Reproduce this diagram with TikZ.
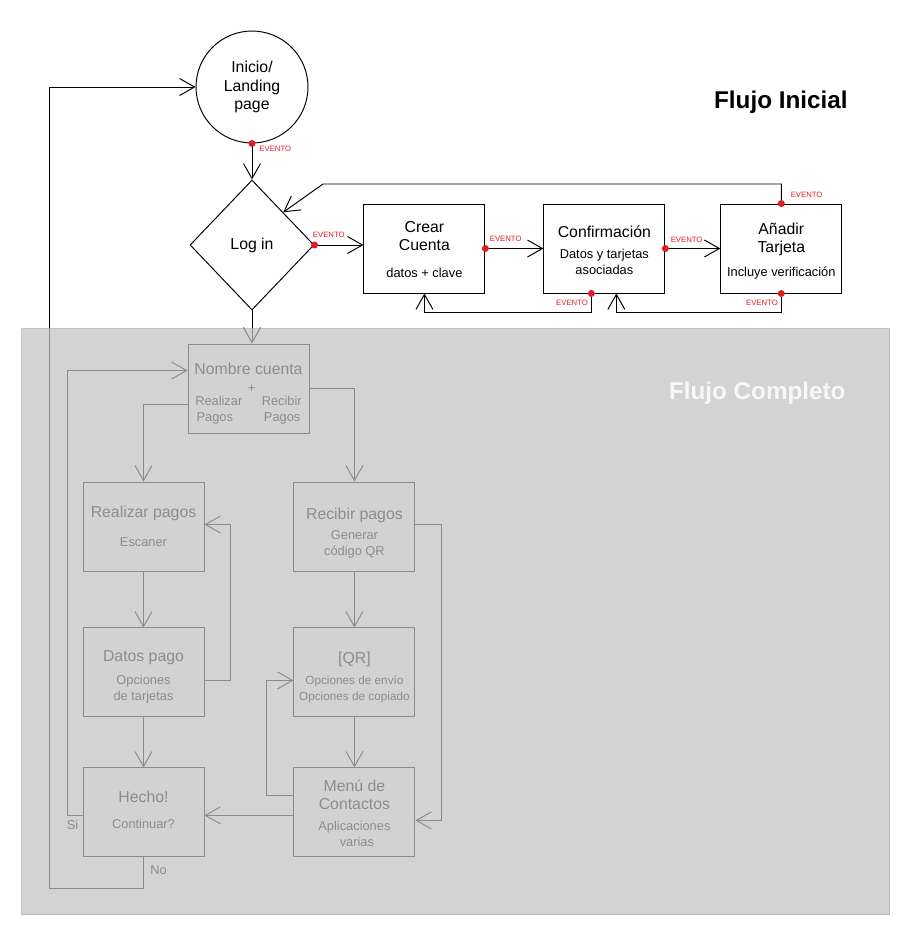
\documentclass[tikz,border=0pt]{standalone}
\usepackage{fontspec}
\setmainfont{Liberation Sans}
\usepackage{tikz}
\usetikzlibrary{shapes.geometric, arrows.meta, positioning, calc}
\usepackage{xcolor}
\definecolor{eventred}{HTML}{E31B23}
\definecolor{panelgray}{HTML}{C2C2C2}
\definecolor{panelline}{HTML}{AFAFAF}
\newcommand{\titlefont}{\fontsize{9}{10.3}\selectfont}
\newcommand{\boxsub}{\fontsize{7.3}{9.1}\selectfont}
\newcommand{\evfont}{\fontsize{4.4}{5}\selectfont}
\newcommand{\headfont}{\fontsize{13.8}{16}\selectfont\bfseries}
\newcommand{\boxlines}[1]{{\boxsub\begin{tabular}[t]{@{}c@{}}#1\end{tabular}}}
\newcommand{\topgap}[1]{\rule{0pt}{#1}}

\begin{document}
\begin{tikzpicture}[
    x=0.02cm, y=-0.02cm, line width=0.55pt,
    landing/.style={circle, draw, fill=white, minimum size=2.24cm, inner sep=0pt, align=center, font=\titlefont},
    decision/.style={diamond, draw, fill=white, minimum width=2.48cm, minimum height=2.6cm, inner sep=0pt, font=\titlefont},
    screen/.style={draw, fill=white, minimum width=2.42cm, minimum height=1.78cm, inner sep=1pt, align=center, font=\titlefont},
    arr/.style={-{Straight Barb[length=0.3cm, width=0.34cm]}},
    evdot/.style={fill=eventred},
    evtag/.style={text=eventred, font=\evfont, inner sep=0pt},
    note/.style={font=\boxsub, inner sep=0pt},
    heading/.style={font=\headfont, inner sep=0pt},
]
\useasboundingbox (0,0) rectangle (914,946);

% Flujo inicial
\node[landing] (start) at (252,87) {Inicio/\\Landing\\page};
\node[decision] (login) at (252,245) {Log in};
\node[screen, right=0.98cm of login, yshift=-0.07cm] (crear) {\topgap{10pt}Crear\\Cuenta\\[5.2pt]\boxlines{datos + clave}};
\node[screen, right=1.16cm of crear] (confirm) {\topgap{10.8pt}Confirmación\\[1.6pt]\boxlines{Datos y tarjetas\\asociadas}};
\node[screen, right=1.1cm of confirm] (tarjeta) {\topgap{10.9pt}Añadir\\Tarjeta\\[3.3pt]\boxlines{Incluye verificación}};
\coordinate (back) at (323,184);

\node[heading, anchor=east] (inicial) at (848,102) {Flujo Inicial};

% Flujo completo - pagos
\node[screen] (nombre) at (248.5,388.5) {\topgap{13.4pt}Nombre cuenta\\{\boxsub\hspace{0.12cm}+}\\[-3pt]\boxlines{Realizar\hspace{0.39cm}Recibir\\Pagos\hspace{0.62cm}Pagos}};
\node[screen] (realizar) at (143.5,526.5) {\topgap{8.9pt}Realizar pagos\\[5.8pt]\boxlines{Escaner}};
\node[screen, right=1.78cm of realizar] (recibir) {\topgap{15.7pt}Recibir pagos\\[1.1pt]\boxlines{Generar\\código QR}};
\node[screen, below=1.12cm of realizar] (datos) {\topgap{12.8pt}Datos pago\\[2.7pt]\boxlines{Opciones\\de tarjetas}};
\node[screen, below=1.0cm of datos] (hecho) {Hecho!\\[4.7pt]\boxlines{Continuar?}};
\node[screen, below=1.12cm of recibir] (qr) {\topgap{14pt}[QR]\\[1.2pt]{\fontsize{6.7}{9.4}\selectfont\begin{tabular}[t]{@{}c@{}}Opciones de envío\\Opciones de copiado\end{tabular}}};
\node[screen, below=1.0cm of qr] (menu) {\topgap{10.7pt}Menú de\\Contactos\\[1.6pt]\boxlines{Aplicaciones\\\hspace{0.1cm}varias}};

% Arrows - flujo inicial
\draw[arr] (start.south) -- (login.north);
\draw[arr] (login.east) -- (crear.west |- login.east);
\draw[arr] (crear.east) -- (confirm.west);
\draw[arr] (confirm.east) -- (tarjeta.west);
\draw[arr] (tarjeta.north) |- (back) -- (login.north east);
\coordinate (cback) at ($(confirm.south)+(-13,0)$);
\draw[arr] (cback) -- ++(0,19) -| (crear.south);
\draw[arr] (tarjeta.south) -- ++(0,19) -| ($(confirm.south)+(12,0)$);

% Arrows - flujo completo
\draw[arr] (login.south) -- (login.south |- nombre.north);
\draw[arr] ($(nombre.west)+(0,16)$) -| (realizar.north);
\draw[arr] (nombre.east) -| (recibir.north);
\foreach \a/\b in {realizar/datos, datos/hecho, recibir/qr, qr/menu} {
    \draw[arr] (\a.south) -- (\b.north);
}
\draw[arr] ($(datos.east)+(0,8)$) -- ++(26,0) |- ($(realizar.east)+(0,-2)$);
\draw[arr] ($(recibir.east)+(0,-2)$) -- ++(26,0) |- ($(menu.east)+(0,8)$);
\draw[arr] ($(menu.west)+(0,-17)$) -- ++(-27,0) |- ($(qr.west)+(0,8)$);
\coordinate (mh) at ($(menu.west)+(0,3)$);
\draw[arr] (mh) -- (hecho.east |- mh);
\draw[arr] ($(hecho.west)+(0,3)$) -- ++(-15,0) |- ($(nombre.west)+(0,-18)$);
\draw[arr] (hecho.south) -- ++(0,31) -| ($(start.west)+(-146,0)$) -- (start.west);
\node[note] (si) at ($(hecho.west)+(-10,13)$) {Si};
\node[note] (no) at ($(hecho.south)+(15,13)$) {No};

% Eventos
\foreach \p in {start.south, login.east, crear.east, confirm.east, tarjeta.north, cback, tarjeta.south} {
    \fill[evdot] (\p) circle (0.07cm);
}
\node[evtag, anchor=west] (ev1) at ($(start.south)+(7,5)$) {EVENTO};
\node[evtag, anchor=west] (ev2) at ($(login.east)+(-2,-10)$) {EVENTO};
\node[evtag, anchor=west] (ev3) at ($(crear.east)+(4,-10)$) {EVENTO};
\node[evtag, anchor=west] (ev4) at ($(confirm.east)+(5,-9)$) {EVENTO};
\node[evtag, anchor=west] (ev5) at ($(tarjeta.north)+(9,-9)$) {EVENTO};
\node[evtag, anchor=east] (ev6) at ($(cback)+(-3,9)$) {EVENTO};
\node[evtag, anchor=east] (ev7) at ($(tarjeta.south)+(-3,9)$) {EVENTO};

% Panel gris
\filldraw[fill=panelgray, draw=panelline, opacity=0.72] (21.5,328.5) rectangle (889.5,914.5);
\node[heading, text=white!97!black, anchor=east] (completo) at (846,393) {Flujo Completo};

\end{tikzpicture}
\end{document}
